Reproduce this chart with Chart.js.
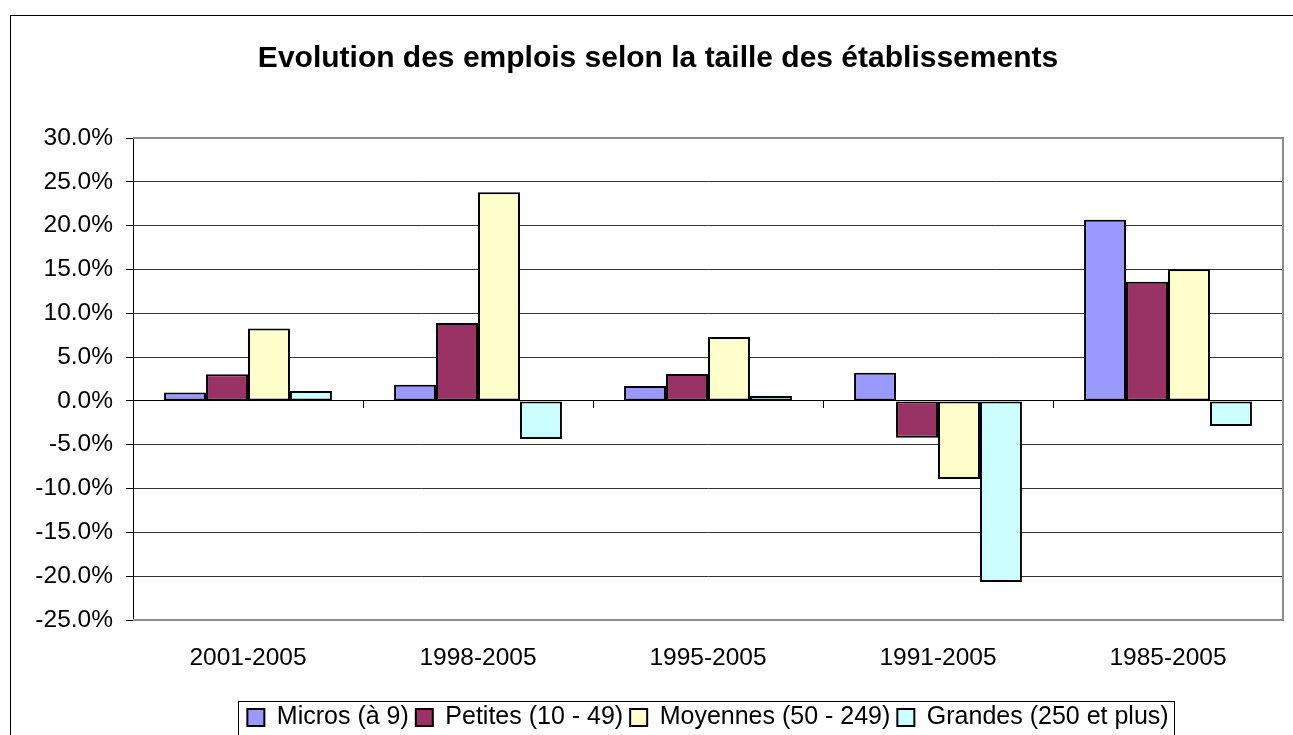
<!DOCTYPE html>
<html>
<head>
<meta charset="utf-8">
<script src="https://cdn.jsdelivr.net/npm/chart.js@4.4.1/dist/chart.umd.min.js"></script>
<style>
  html, body { margin: 0; padding: 0; background: #fff; overflow: hidden; }
  #wrap { width: 1320px; height: 760px; }
</style>
</head>
<body>
<div id="wrap"><canvas id="c" width="1320" height="760"></canvas></div>
<script>
const categories = ['2001-2005', '1998-2005', '1995-2005', '1991-2005', '1985-2005'];
const micros   = [0.95, 1.83, 1.71, 3.2, 20.66];
const petites  = [3.05, 8.9, 3.08, -4.19, 13.6];
const moyennes = [8.25, 23.8, 7.3, -8.9, 15.03];
const grandes  = [1.14, -4.34, 0.57, -20.66, -2.85];
const seriesNames = ['Micros (à 9)', 'Petites (10 - 49)', 'Moyennes (50 - 249)', 'Grandes (250 et plus)'];
const seriesColors = ['#9999FF', '#993366', '#FFFFCC', '#CCFFFF'];
const yMin = -25, yMax = 30, yStep = 5;
const titleText = 'Evolution des emplois selon la taille des établissements';

const FONT = "'Liberation Sans', Arial, sans-serif";

const frame = {
  id: 'frame',
  beforeDraw(chart) {
    const ctx = chart.ctx;
    ctx.save();
    ctx.fillStyle = '#fff';
    ctx.fillRect(0, 0, chart.width, chart.height);
    ctx.strokeStyle = '#000';
    ctx.lineWidth = 1;
    ctx.strokeRect(10.5, 15.5, 1296, 735);
    ctx.restore();
  },
  beforeDatasetsDraw(chart) {
    const a = chart.chartArea, ctx = chart.ctx;
    ctx.save();
    ctx.strokeStyle = '#8c8c8c';
    ctx.lineWidth = 2;
    ctx.beginPath();
    ctx.moveTo(a.left, a.top);
    ctx.lineTo(a.right, a.top);
    ctx.lineTo(a.right, a.bottom);
    ctx.lineTo(a.left, a.bottom);
    ctx.stroke();
    ctx.restore();
  },
  afterDraw(chart) {
    const hb = chart.legend && chart.legend.legendHitBoxes;
    if (!hb || !hb.length) return;
    let l = Infinity, t = Infinity, r = -Infinity;
    hb.forEach(b => { l = Math.min(l, b.left); t = Math.min(t, b.top); r = Math.max(r, b.left + b.width); });
    const ctx = chart.ctx;
    ctx.save();
    ctx.strokeStyle = '#000';
    ctx.lineWidth = 1;
    ctx.strokeRect(Math.round(l - 9) + 0.5, Math.round(t - 4) + 0.5, Math.round(r - l + 15), 80);
    ctx.restore();
  }
};

const data = {
  labels: categories,
  datasets: [micros, petites, moyennes, grandes].map((arr, i) => ({
    label: seriesNames[i],
    data: arr,
    backgroundColor: seriesColors[i],
    borderColor: '#000',
    borderWidth: 2,
    borderSkipped: false,
    categoryPercentage: 0.73,
    barPercentage: 1.0,
    xAxisID: 'x',
    yAxisID: 'y'
  }))
};

new Chart(document.getElementById('c'), {
  type: 'bar',
  data,
  plugins: [frame],
  options: {
    responsive: false,
    animation: false,
    events: [],
    layout: { padding: { left: 10, top: 15, right: 14, bottom: 20 } },
    plugins: {
      tooltip: { enabled: false },
      title: {
        display: true,
        text: titleText,
        color: '#000',
        font: { family: FONT, size: 30, weight: 'bold' },
        padding: { top: 26, bottom: 61 }
      },
      legend: {
        display: true,
        position: 'bottom',
        fullSize: false,
        labels: {
          color: '#000',
          font: { family: FONT, size: 25 },
          boxWidth: 17,
          boxHeight: 17,
          padding: 7
        }
      }
    },
    scales: {
      x: {
        type: 'category',
        position: 'bottom',
        offset: true,
        grid: { display: false },
        border: { display: false },
        ticks: { color: '#000', font: { family: FONT, size: 24.5 }, padding: 16, maxRotation: 0 },
        afterFit(s) { s.height = 78; }
      },
      x2: {
        type: 'category',
        axis: 'x',
        labels: categories,
        position: { y: 0 },
        offset: true,
        grid: { display: true, offset: true, drawOnChartArea: false, drawTicks: true, tickLength: 7, tickColor: '#000', lineWidth: 1 },
        border: { display: true, color: '#000', width: 1 },
        ticks: { display: false }
      },
      y: {
        type: 'linear',
        position: 'left',
        min: yMin,
        max: yMax,
        ticks: {
          stepSize: yStep,
          color: '#000',
          font: { family: FONT, size: 24.5 },
          padding: 13,
          callback: v => v.toFixed(1) + '%'
        },
        grid: {
          color: ctx => (ctx.tick && ctx.tick.value === yMax) ? 'rgba(0,0,0,0)' : '#333',
          tickColor: '#000',
          tickLength: 7,
          lineWidth: 1
        },
        border: { display: true, color: '#000', width: 1 },
        afterFit(s) { s.width = 123; }
      },
      yR: {
        type: 'linear',
        axis: 'y',
        position: 'right',
        display: true,
        grid: { display: false },
        border: { display: false },
        ticks: { display: false },
        afterFit(s) { s.width = 23; }
      }
    }
  }
});
</script>
</body>
</html>
